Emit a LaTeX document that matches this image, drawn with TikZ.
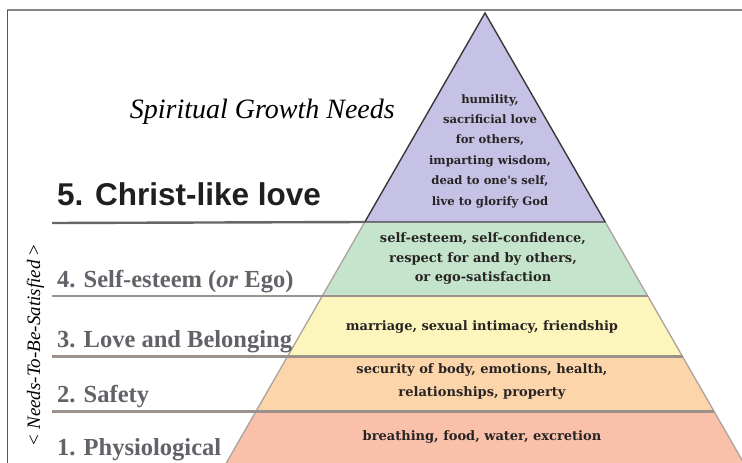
\documentclass[tikz,border=0pt]{standalone}
\usepackage{fontspec}
\setmainfont{Liberation Serif}[BoldFont={Liberation Serif Bold}, ItalicFont={Liberation Serif Italic}, BoldItalicFont={Liberation Serif Bold Italic}]
\newfontfamily\labsans{Liberation Sans}[BoldFont={Liberation Sans Bold}]
\newfontfamily\pyrfont{DejaVu Serif}[BoldFont={DejaVu Serif Bold}]
\definecolor{purpleL}{RGB}{198,194,230}
\definecolor{greenL}{RGB}{196,228,204}
\definecolor{yellowL}{RGB}{252,246,188}
\definecolor{orangeL}{RGB}{252,214,170}
\definecolor{redL}{RGB}{249,192,170}
\definecolor{edgeC}{RGB}{172,162,158}
\definecolor{labC}{RGB}{98,98,104}
\definecolor{txtC}{RGB}{40,36,36}
\tikzset{
  layer edge/.style={draw=edgeC, line width=1.3pt},
  sep line/.style={draw=edgeC!90!black, line width=2.4pt},
  lab/.style={anchor=base west, text=labC, font=\fontsize{24.5}{28}\selectfont\bfseries, inner sep=0pt},
  pyrtext/.style={align=center, text=txtC, inner sep=0pt},
}
\begin{document}
\begin{tikzpicture}[x=1pt,y=-1pt,
  declare function={lx(\t)=485-0.575*(\t-13); rx(\t)=485+0.575*(\t-13);}]
\useasboundingbox (0,0) rectangle (742,463);
\fill[white] (0,0) rectangle (742,463);
\begin{scope}
\clip (0,0) rectangle (742,463);
% lower layers
\fill[greenL] ({lx(223)},223) -- ({rx(223)},223) -- ({rx(296)},296) -- ({lx(296)},296) -- cycle;
\fill[yellowL] ({lx(296)},296) -- ({rx(296)},296) -- ({rx(356.5)},356.5) -- ({lx(356.5)},356.5) -- cycle;
\fill[orangeL] ({lx(356.5)},356.5) -- ({rx(356.5)},356.5) -- ({rx(411.5)},411.5) -- ({lx(411.5)},411.5) -- cycle;
\fill[redL] ({lx(411.5)},411.5) -- ({rx(411.5)},411.5) -- ({rx(480)},480) -- ({lx(480)},480) -- cycle;
\coordinate (tl) at ({lx(223)},223);
\coordinate (tr) at ({rx(223)},223);
\coordinate (bl) at ({lx(480)},480);
\coordinate (br) at ({rx(480)},480);
\draw[layer edge] (tl) -- (bl);
\draw[layer edge] (tr) -- (br);
% separators
\coordinate (s4a) at (52,296);   \coordinate (s4b) at ({rx(296)},296);
\coordinate (s3a) at (52,356.5); \coordinate (s3b) at ({rx(356.5)},356.5);
\coordinate (s2a) at (52,411.5); \coordinate (s2b) at ({rx(411.5)},411.5);
\draw[sep line] (s4a) -- (s4b);
\draw[sep line] (s3a) -- (s3b);
\draw[sep line] (s2a) -- (s2b);
% top triangle
\coordinate (apex) at (485,13);
\coordinate (pl) at ({lx(222)},222);
\coordinate (pr) at ({rx(222)},222);
\filldraw[fill=purpleL, draw=black!78, line width=1.4pt, line join=miter] (apex) -- (pr) -- (pl) -- cycle;
\coordinate (s5a) at (52,223);
\draw[draw=black!60, line width=2.4pt] (s5a) -- (pl);
\end{scope}
% frame
\coordinate (f0) at (7,10); \coordinate (f1) at (742,10); \coordinate (f2) at (7,463);
\draw[black!48, line width=2pt] (f0) -- (f1);
\draw[black!65, line width=0.8pt] (f0) -- (f2);
% headings
\node[anchor=base east, inner sep=0pt, font=\fontsize{28}{32}\selectfont\itshape] (sgn) at (395,118) {Spiritual Growth Needs};
\node[anchor=base west, inner sep=0pt, text=black!88, font=\labsans\fontsize{31.5}{34}\selectfont\bfseries] (l5) at (57,205) {5. Christ-like love};
\node[lab] (l4) at (57,287) {4. Self-esteem (\textit{or} Ego)};
\node[lab] (l3) at (57,347) {3. Love and Belonging};
\node[lab] (l2) at (57,402) {2. Safety};
\node[lab] (l1) at (57,455) {1. Physiological};
\node[rotate=90, anchor=base, inner sep=0pt, font=\fontsize{19}{22}\selectfont] (side) at (40,345) {< \textit{Needs-To-Be-Satisfied} >};
% pyramid texts
\node[pyrtext, font=\pyrfont\fontsize{11.6}{20.4}\selectfont\bfseries] (t5) at (490,151) {humility,\\sacrificial love\\for others,\\imparting wisdom,\\dead to one's self,\\live to glorify God};
\node[pyrtext, font=\pyrfont\fontsize{13}{19.5}\selectfont\bfseries] (t4) at (483,259) {self-esteem, self-confidence,\\respect for and by others,\\or ego-satisfaction};
\node[pyrtext, font=\pyrfont\fontsize{13}{19}\selectfont\bfseries] (t3) at (482,327) {marriage, sexual intimacy, friendship};
\node[pyrtext, font=\pyrfont\fontsize{13}{23}\selectfont\bfseries] (t2) at (482,382) {security of body, emotions, health,\\relationships, property};
\node[pyrtext, font=\pyrfont\fontsize{13}{19}\selectfont\bfseries] (t1) at (482,437) {breathing, food, water, excretion};
\end{tikzpicture}
\end{document}
